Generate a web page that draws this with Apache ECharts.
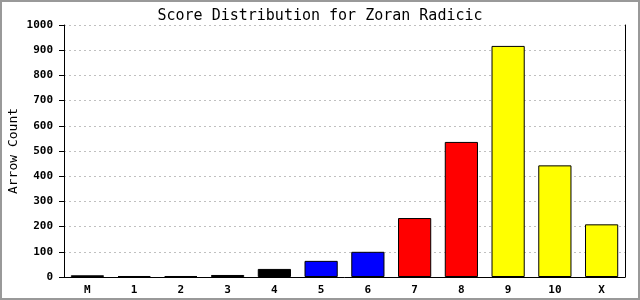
<!DOCTYPE html>
<html><head><meta charset="utf-8">
<script src="https://cdn.jsdelivr.net/npm/echarts@6/dist/echarts.min.js"></script>
<style>html,body{margin:0;padding:0;background:#fff}#c{width:640px;height:300px}</style>
</head><body><div id="c"></div>
<script>
const categories = ['M','1','2','3','4','5','6','7','8','9','10','X'];
const arrowCounts = [7,4,4,8,32,64,100,234,536,917,443,209];
const yTicks = [0,100,200,300,400,500,600,700,800,900,1000];
const barColors = ['#ffffff','#000000','#000000','#000000','#000000','#0000ff','#0000ff','#ff0000','#ff0000','#ffff00','#ffff00','#ffff00'];
const titleText = 'Score Distribution for Zoran Radicic';
const yName = 'Arrow Count';

const mono = '"DejaVu Sans Mono", "Liberation Mono", monospace';
const chart = echarts.init(document.getElementById('c'), null, {renderer:'canvas'});
chart.setOption({
  animation:false,
  backgroundColor:'#fff',
  title:{text:titleText,left:'center',top:4,textStyle:{fontFamily:mono,fontSize:15,fontWeight:'normal',color:'#000'}},
  grid:{left:64,right:15,top:25,bottom:23,containLabel:false,outerBoundsMode:'none'},
  graphic:[{type:'rect',shape:{x:1,y:1,width:638,height:298},style:{fill:'none',stroke:'#999',lineWidth:2},silent:true}],
  xAxis:{type:'category',data:categories,
    axisLine:{lineStyle:{color:'#000',width:1}},axisTick:{show:false},
    axisLabel:{fontFamily:mono,fontSize:11,fontWeight:'bold',color:'#000',margin:8}},
  yAxis:[{type:'value',min:yTicks[0],max:yTicks[yTicks.length-1],interval:100,
    name:yName,nameLocation:'middle',nameGap:44,nameMoveOverlap:false,nameTextStyle:{fontFamily:mono,fontSize:13,color:'#000'},
    axisLine:{show:true,lineStyle:{color:'#000'}},
    axisTick:{show:true,length:5,lineStyle:{color:'#000'}},
    axisLabel:{fontFamily:mono,fontSize:11,fontWeight:'bold',color:'#000',margin:11,formatter:v=>String(v)},
    splitLine:{show:true,lineStyle:{color:'#c0c0c0',type:[2,3],width:1}}},
    {type:'value',position:'right',min:yTicks[0],max:yTicks[yTicks.length-1],interval:100,
    axisLine:{show:true,lineStyle:{color:'#000'}},axisTick:{show:false},axisLabel:{show:false},splitLine:{show:false}}],
  series:[{type:'bar',barWidth:'71%',
    data:arrowCounts.map((v,i)=>({value:v,itemStyle:{color:barColors[i]}})),
    itemStyle:{borderColor:'#000',borderWidth:1}}]
});
</script></body></html>
